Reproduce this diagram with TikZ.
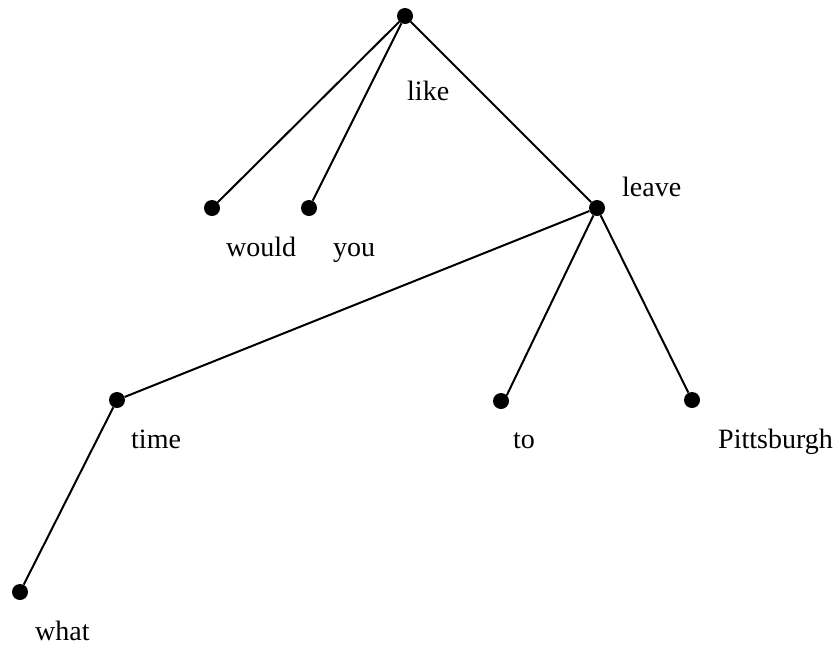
\documentclass[tikz,border=0pt]{standalone}
\usepackage{fontspec}
\setmainfont{Liberation Serif}
\usepackage{tikz}
\usetikzlibrary{positioning,calc}
\tikzset{
  dot/.style={circle,fill=black,inner sep=0pt,minimum size=16pt},
  edge/.style={draw=black,line width=2pt},
  word/.style={anchor=base west,inner sep=0pt,font=\fontsize{28}{32}\selectfont},
}

\begin{document}
\begin{tikzpicture}[x=1pt,y=-1pt]
\useasboundingbox (0,0) rectangle (837,646);
\node[dot](like) at (405,16){};\node[dot](would) at (212,208){};\node[dot](you) at (309,208){};\node[dot](leave) at (597,208){};
\node[dot](time) at (117,400){};\node[dot](to) at (501,401){};\node[dot](pitt) at (692,400){};\node[dot](what) at (20,592){};
\node[word](likeL) at (407,100){like};\node[word](wouldL) at (226,256){would};\node[word](youL) at (333,256){you};
\node[word](leaveL) at (622,196){leave};\node[word](timeL) at (131,448){time};\node[word](toL) at (513,448){to};
\node[word](pittL) at (718,448){Pittsburgh};\node[word](whatL) at (35,640){what};
\draw[edge] (like)--(would);\draw[edge] (like)--(you);\draw[edge] (like)--(leave);
\draw[edge] (leave)--(time);\draw[edge] (leave)--(to.north east);\draw[edge] (leave)--(pitt);
\draw[edge] (time)--(what);
\end{tikzpicture}
\end{document}
